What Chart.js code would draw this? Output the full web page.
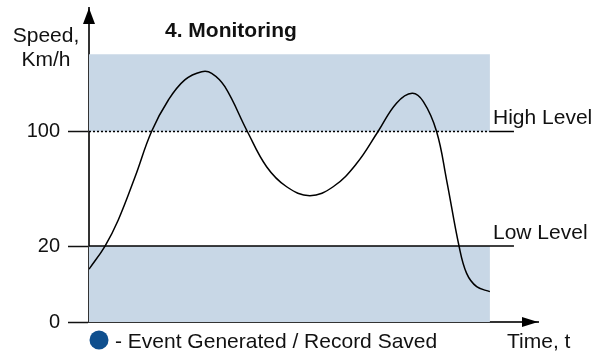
<!DOCTYPE html>
<html>
<head>
<meta charset="utf-8">
<script src="https://cdn.jsdelivr.net/npm/chart.js@4/dist/chart.umd.min.js"></script>
<style>
  html, body { margin: 0; background: #fff; }
  #wrap { width: 603px; height: 358px; }
</style>
</head>
<body>
<div id="wrap"><canvas id="speedChart"></canvas></div>
<script>
// Speed profile over time (km/h)
const timePoints = [0, 4, 7.3, 11.5, 15.6, 19.8, 23.9, 28.1, 30.6, 33.9, 39.5, 44.3, 49.3,
                    55.1, 60.9, 66.8, 72.1, 76.7, 80.6, 83.4, 86.7, 89.2, 92.3, 94.2, 96.7, 100];
const speedValues = [13.9, 20, 38.2, 68.4, 100, 120.4, 133.4, 138.7, 137.7, 129, 100, 75.4, 61.4,
                     55.2, 61.4, 77.8, 100, 118.3, 124.7, 119.3, 100, 66.1, 20, 12.8, 9.3, 8];

const yTicks = [0, 20, 100];
const lowLevel = 20;
const highLevel = 100;
const bandTop = 150;      // upper edge of the shaded zone
const monitorEnd = 100;   // end of the monitored period
const levelLineEnd = 106; // level lines run a bit past the zone
const timeMax = 112;
const speedMax = 180;

// the speed axis is not to scale: each segment gets its own share of the height
const yBreaks = [0, 20, 100, 180];
const yShares = [0, 0.242, 0.6067, 1];

const axisColor = '#333';
const shadeColor = '#c8d7e6';
const fontFamily = '"Liberation Sans", Arial, sans-serif';

function toDecimal(v) {
    for (let i = 1; i < yBreaks.length; i++) {
        if (v <= yBreaks[i] || i === yBreaks.length - 1) {
            const f = (v - yBreaks[i - 1]) / (yBreaks[i] - yBreaks[i - 1]);
            return yShares[i - 1] + f * (yShares[i] - yShares[i - 1]);
        }
    }
}

function fromDecimal(d) {
    for (let i = 1; i < yShares.length; i++) {
        if (d <= yShares[i] || i === yShares.length - 1) {
            const f = (d - yShares[i - 1]) / (yShares[i] - yShares[i - 1]);
            return yBreaks[i - 1] + f * (yBreaks[i] - yBreaks[i - 1]);
        }
    }
}

class PiecewiseScale extends Chart.LinearScale {
    getPixelForValue(value) {
        return this.getPixelForDecimal(toDecimal(value));
    }
    getValueForPixel(pixel) {
        return fromDecimal(this.getDecimalForPixel(pixel));
    }
}
PiecewiseScale.id = 'piecewise';
PiecewiseScale.defaults = Chart.LinearScale.defaults;
Chart.register(PiecewiseScale);

const points = timePoints.map((t, i) => ({ x: t, y: speedValues[i] }));

// arrows and the free text around the plot
const decorations = {
    id: 'decorations',
    afterDraw(chart) {
        const { ctx, chartArea: a, scales: { y } } = chart;
        ctx.save();
        ctx.fillStyle = '#000';
        ctx.beginPath();
        ctx.moveTo(a.left, a.top);
        ctx.lineTo(a.left - 6, a.top + 16);
        ctx.lineTo(a.left + 6, a.top + 16);
        ctx.closePath();
        ctx.fill();
        ctx.beginPath();
        ctx.moveTo(a.right, a.bottom);
        ctx.lineTo(a.right - 16, a.bottom - 5);
        ctx.lineTo(a.right - 16, a.bottom + 5);
        ctx.closePath();
        ctx.fill();

        ctx.fillStyle = '#111';
        ctx.textBaseline = 'alphabetic';
        ctx.font = '21px ' + fontFamily;
        ctx.textAlign = 'center';
        ctx.fillText('Speed,', 46, 42);
        ctx.fillText('Km/h', 46, 66);

        ctx.textAlign = 'left';
        ctx.fillText('High Level', 493, y.getPixelForValue(highLevel) - 7);
        ctx.fillText('Low Level', 493, y.getPixelForValue(lowLevel) - 7);
        ctx.fillText('Time, t', 507, 348);
        ctx.fillText('- Event Generated / Record Saved', 115, 348);

        ctx.font = 'bold 21px ' + fontFamily;
        ctx.fillText('4. Monitoring', 165, 37);

        ctx.fillStyle = '#0f4f8e';
        ctx.beginPath();
        ctx.arc(99, 340, 9.5, 0, Math.PI * 2);
        ctx.fill();
        ctx.restore();
    }
};

new Chart(document.getElementById('speedChart'), {
    type: 'line',
    data: {
        datasets: [
            {
                data: points,
                borderColor: '#000',
                borderWidth: 1.5,
                pointRadius: 0,
                tension: 0.4,
                fill: false
            },
            {
                data: [{ x: 0, y: highLevel }, { x: monitorEnd, y: highLevel }],
                borderColor: '#000',
                borderWidth: 1.5,
                borderDash: [2, 2],
                pointRadius: 0,
                fill: false
            },
            {
                data: [{ x: monitorEnd, y: highLevel }, { x: levelLineEnd, y: highLevel }],
                borderColor: '#000',
                borderWidth: 1.5,
                pointRadius: 0,
                fill: false
            },
            {
                data: [{ x: 0, y: lowLevel }, { x: levelLineEnd, y: lowLevel }],
                borderColor: '#000',
                borderWidth: 1.5,
                pointRadius: 0,
                fill: false
            },
            {
                data: [{ x: 0, y: bandTop }, { x: monitorEnd, y: bandTop }],
                borderWidth: 0,
                pointRadius: 0,
                backgroundColor: shadeColor,
                fill: { value: highLevel }
            },
            {
                data: [{ x: 0, y: lowLevel }, { x: monitorEnd, y: lowLevel }],
                borderWidth: 0,
                pointRadius: 0,
                backgroundColor: shadeColor,
                fill: { value: 0 }
            }
        ]
    },
    options: {
        responsive: true,
        maintainAspectRatio: false,
        animation: false,
        layout: { padding: { top: 8, right: 65, left: 0, bottom: 0 } },
        plugins: {
            legend: { display: false },
            tooltip: { enabled: false }
        },
        scales: {
            x: {
                type: 'linear',
                min: 0,
                max: timeMax,
                grid: { display: false },
                border: { display: true, color: axisColor, width: 2 },
                ticks: { display: false },
                afterFit(scale) { scale.height = 36; }
            },
            y: {
                type: 'piecewise',
                min: 0,
                max: speedMax,
                afterBuildTicks(scale) {
                    scale.ticks = yTicks.map(v => ({ value: v }));
                },
                grid: {
                    drawOnChartArea: false,
                    drawTicks: true,
                    tickLength: 21,
                    tickColor: '#111',
                    tickWidth: 1.5
                },
                border: { display: true, color: axisColor, width: 2 },
                ticks: {
                    padding: 8,
                    color: '#111',
                    font: { family: fontFamily, size: 20 },
                    callback: v => String(v)
                },
                afterFit(scale) {
                    scale.width = 89;
                    scale.paddingTop = 0;
                    scale.paddingBottom = 0;
                }
            }
        }
    },
    plugins: [decorations]
});
</script>
</body>
</html>
